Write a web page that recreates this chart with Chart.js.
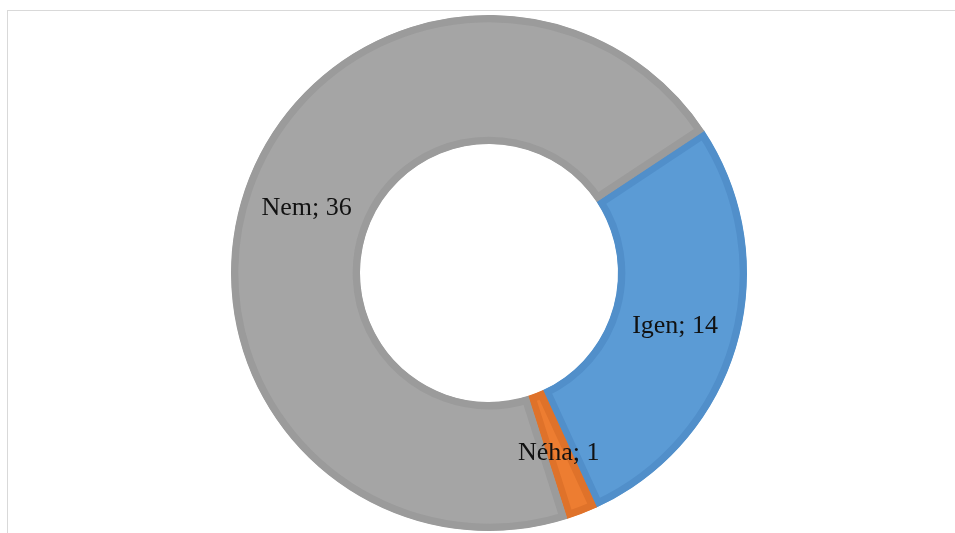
<!DOCTYPE html>
<html>
<head>
<meta charset="utf-8">
<script src="https://cdn.jsdelivr.net/npm/chart.js@4"></script>
<style>
  html, body { margin: 0; padding: 0; background: #fff; }
  #wrap { position: relative; width: 955px; height: 533px; }
</style>
</head>
<body>
<div id="wrap"><canvas id="pieChart"></canvas></div>
<script>
const labels = ['Igen', 'Néha', 'Nem'];
const values = [14, 1, 36];
const fillColors = ['#5b9bd5', '#ed7d31', '#a5a5a5'];
const edgeColors = ['#518fca', '#df722a', '#9b9b9b'];

// frame + "Label; value" texts drawn on each slice
const framePlugin = {
    id: 'frame',
    beforeDraw(chart) {
        const ctx = chart.ctx;
        ctx.save();
        ctx.strokeStyle = '#d9d9d9';
        ctx.lineWidth = 1;
        ctx.strokeRect(7.5, 10.5, 960, 540);
        ctx.restore();
    }
};

const sliceLabels = {
    id: 'sliceLabels',
    afterDatasetsDraw(chart) {
        const ctx = chart.ctx;
        const meta = chart.getDatasetMeta(0);
        ctx.save();
        ctx.font = '26px "Liberation Serif", "Times New Roman", serif';
        ctx.fillStyle = '#111';
        ctx.textAlign = 'center';
        ctx.textBaseline = 'middle';
        meta.data.forEach((arc, i) => {
            const p = arc.tooltipPosition();
            ctx.fillText(labels[i] + '; ' + values[i], p.x, p.y);
        });
        ctx.restore();
    }
};

new Chart(document.getElementById('pieChart').getContext('2d'), {
    type: 'doughnut',
    data: {
        labels: labels,
        datasets: [{
            data: values,
            backgroundColor: fillColors,
            borderColor: edgeColors,
            borderWidth: 7,
            borderAlign: 'inner',
            borderJoinStyle: 'miter'
        }]
    },
    options: {
        responsive: true,
        maintainAspectRatio: false,
        animation: false,
        rotation: 56.5,
        cutout: '50%',
        layout: { padding: { left: 23, right: 0, top: 15, bottom: 2 } },
        plugins: {
            legend: { display: false },
            tooltip: { enabled: false }
        }
    },
    plugins: [framePlugin, sliceLabels]
});
</script>
</body>
</html>
